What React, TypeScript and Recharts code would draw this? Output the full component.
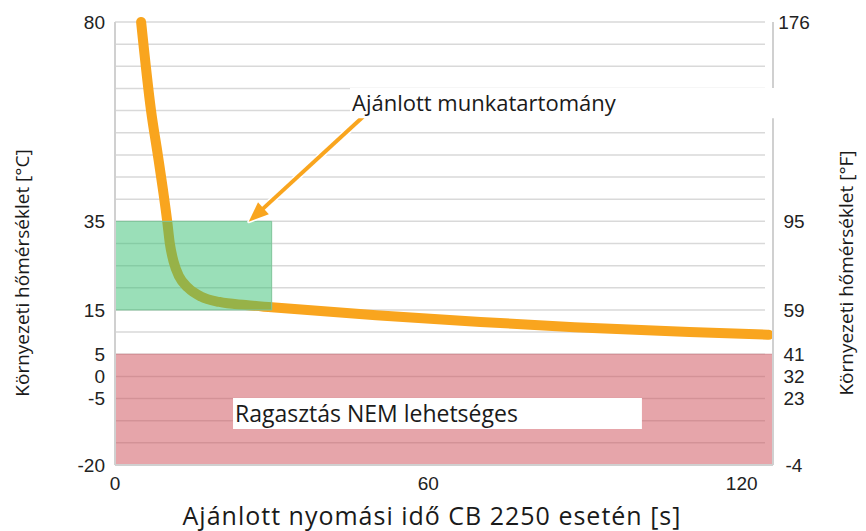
import { ComposedChart, Line, XAxis, YAxis, CartesianGrid, ReferenceArea, ReferenceLine, Customized } from 'recharts';

// pressing time [s] vs. ambient temperature [°C]
const pressTime = [5, 6.9, 8.2, 9.2, 10, 10.5, 11.2, 12.3, 14, 16.5, 20, 25, 30, 50, 70, 88, 110, 125.2];
const tempC = [80, 60, 50, 42, 35, 30, 26, 22.5, 20, 18, 16.8, 16.1, 15.6, 13.8, 12.3, 11.1, 10.0, 9.4];

const timeTicks = [0, 60, 120];
const celsiusTicks = [-20, -5, 0, 5, 15, 35, 80];
const fahrenheitTicks = [-4, 23, 32, 41, 59, 95, 176];
const gridTemps = [-15, -10, -5, 0, 5, 10, 15, 20, 25, 30, 35, 40, 45, 50, 55, 60, 65, 70, 75, 80];

const workTime = [0, 30];
const workTemp = [15, 35];
const noBondTemp = [-20, 5];
const arrowFrom = { t: 47.5, c: 58.6 };
const arrowTo = { t: 25.6, c: 34.9 };
// white label boxes [t1, t2, c1, c2]
const workBox = [45, 126.6, 58.3, 65.1];
const noBondBox = [22.6, 100.9, -11.9, -4.9];

const data = pressTime.map((t, i) => ({ t, c: tempC[i] }));

const ORANGE = '#F9A51E';
const AXIS = '#D0D0D0';
const tickFont = { fontSize: 19, fill: '#222', fontFamily: 'Liberation Sans, Arial, sans-serif' };
const textFont = 'Open Sans, sans-serif';

const GridLine = (p: any) => (
  <line x1={p.x1} y1={p.y1} x2={p.x2 - 8} y2={p.y2} stroke="#D9D9D9" strokeWidth={1.5} />
);

const Arrow = (p: any) => {
  const { x1, y1, x2, y2 } = p;
  const dx = x2 - x1, dy = y2 - y1;
  const len = Math.sqrt(dx * dx + dy * dy);
  const ux = dx / len, uy = dy / len;
  const head = 20, half = 8;
  const bx = x2 - ux * head, by = y2 - uy * head;
  const pts = `${x2},${y2} ${bx - uy * half},${by + ux * half} ${bx + uy * half},${by - ux * half}`;
  return (
    <g>
      <line x1={x1} y1={y1} x2={bx} y2={by} stroke="#fff" strokeWidth={7} />
      <polygon points={pts} fill="#fff" stroke="#fff" strokeWidth={3} strokeLinejoin="round" />
      <line x1={x1} y1={y1} x2={bx + ux * 2} y2={by + uy * 2} stroke={ORANGE} strokeWidth={4} />
      <polygon points={pts} fill={ORANGE} />
    </g>
  );
};

const boxLabel = (text: string, size: number) => ({
  value: text,
  position: 'insideLeft' as const,
  offset: 2,
  fontSize: size,
  fontFamily: textFont,
  fill: '#1a1a1a',
});

const Titles = () => (
  <g>
    <text x={432} y={525} fontSize={25} letterSpacing={1} fontFamily={textFont} fill="#1a1a1a" textAnchor="middle">
      Ajánlott nyomási idő CB 2250 esetén [s]
    </text>
    <text x={29} y={273} fontSize={19} fontFamily={textFont} fill="#1a1a1a" textAnchor="middle" transform="rotate(-90 29 273)">
      Környezeti hőmérséklet [°C]
    </text>
    <text x={853} y={273} fontSize={19} fontFamily={textFont} fill="#1a1a1a" textAnchor="middle" transform="rotate(-90 853 273)">
      Környezeti hőmérséklet [°F]
    </text>
  </g>
);

export default function App() {
  return (
    <div style={{ position: 'absolute', left: 0, top: 0, background: '#fff' }}>
      <ComposedChart width={866} height={531} data={data} margin={{ top: 22, right: 0, bottom: 0, left: 0 }}>
        <CartesianGrid yAxisId="c" vertical={false} horizontalValues={gridTemps} horizontal={GridLine} />
        <XAxis
          dataKey="t"
          type="number"
          domain={[0, 126]}
          ticks={timeTicks}
          height={66}
          tick={tickFont}
          tickLine={false}
          tickSize={0}
          tickMargin={12}
          axisLine={{ stroke: AXIS, strokeWidth: 2 }}
        />
        <YAxis
          yAxisId="c"
          orientation="left"
          domain={[-20, 80]}
          ticks={celsiusTicks}
          width={115}
          tick={tickFont}
          tickLine={false}
          tickSize={0}
          tickMargin={10}
          axisLine={{ stroke: AXIS, strokeWidth: 2 }}
          interval={0}
        />
        <YAxis
          yAxisId="f"
          orientation="right"
          type="number"
          domain={[-4, 176]}
          allowDataOverflow
          ticks={fahrenheitTicks}
          width={93}
          tick={{ ...tickFont, textAnchor: 'middle' }}
          tickLine={false}
          tickSize={0}
          tickMargin={21}
          axisLine={{ stroke: AXIS, strokeWidth: 2 }}
          interval={0}
        />
        <Line
          yAxisId="c"
          dataKey="c"
          type="monotone"
          stroke={ORANGE}
          strokeWidth={10}
          strokeLinecap="round"
          dot={false}
          activeDot={false}
          isAnimationActive={false}
        />
        <ReferenceArea
          yAxisId="c"
          x1={workTime[0]}
          x2={workTime[1]}
          y1={workTemp[0]}
          y2={workTemp[1]}
          fill="#35BF71"
          fillOpacity={0.5}
          stroke="#7FC49A"
          strokeWidth={1}
          zIndex={450}
        />
        <ReferenceArea
          yAxisId="c"
          y1={noBondTemp[0]}
          y2={noBondTemp[1]}
          fill="#CD4B55"
          fillOpacity={0.5}
          stroke="#D38C93"
          strokeWidth={1}
          zIndex={450}
        />
        <ReferenceLine
          yAxisId="c"
          segment={[{ x: arrowFrom.t, y: arrowFrom.c }, { x: arrowTo.t, y: arrowTo.c }]}
          shape={Arrow}
          zIndex={460}
        />
        <ReferenceArea
          yAxisId="c"
          x1={workBox[0]}
          x2={workBox[1]}
          y1={workBox[2]}
          y2={workBox[3]}
          ifOverflow="visible"
          fill="#fff"
          fillOpacity={1}
          zIndex={1500}
          label={boxLabel('Ajánlott munkatartomány', 22)}
        />
        <ReferenceArea
          yAxisId="c"
          x1={noBondBox[0]}
          x2={noBondBox[1]}
          y1={noBondBox[2]}
          y2={noBondBox[3]}
          fill="#fff"
          fillOpacity={1}
          zIndex={1500}
          label={boxLabel('Ragasztás NEM lehetséges', 23)}
        />
        <Customized component={<Titles />} />
      </ComposedChart>
    </div>
  );
}
